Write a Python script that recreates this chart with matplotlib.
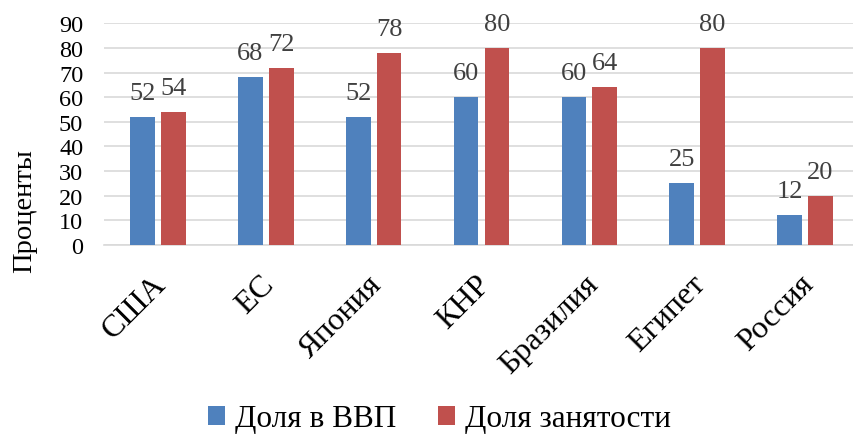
import matplotlib
matplotlib.use("Agg")
import matplotlib.pyplot as plt
from matplotlib.transforms import ScaledTranslation
import numpy as np

categories = ["США", "ЕС", "Япония", "КНР", "Бразилия", "Египет", "Россия"]
gdp_share = [52, 68, 52, 60, 60, 25, 12]
employment_share = [54, 72, 78, 80, 64, 80, 20]
series_names = ["Доля в ВВП", "Доля занятости"]
yticks = [0, 10, 20, 30, 40, 50, 60, 70, 80, 90]

plt.rcParams['font.family'] = ['Liberation Serif', 'DejaVu Serif']

fig = plt.figure(figsize=(8.54, 4.39), dpi=100)
ax = fig.add_axes([104/854, 1-246/439, 755/854, (246-24.3)/439])

x = np.arange(len(categories))
w = 0.23
off = 0.143
b1 = ax.bar(x - off, gdp_share, w, color='#4F81BD', label=series_names[0], zorder=3)
b2 = ax.bar(x + off, employment_share, w, color='#C0504D', label=series_names[1], zorder=3)

for bars in (b1, b2):
    for r in bars:
        h = r.get_height()
        ax.annotate(f"{int(h)}", (r.get_x() + r.get_width()/2, h),
                    xytext=(0, 17.3), textcoords='offset points', ha='center', va='center',
                    fontsize=19, color='#404040')

ax.set_xlim(-0.5, len(categories) - 0.5)
ax.set_ylim(0, 90)
ax.set_yticks(yticks)
ax.set_yticklabels([str(t) for t in yticks], fontsize=17.5)
ax.yaxis.grid(True, color='#D9D9D9', linewidth=1.2, zorder=0)
ax.set_axisbelow(True)
ax.set_xticks(x)
ax.set_xticklabels(categories, rotation=45, ha='right', rotation_mode='anchor', fontsize=23)
ax.tick_params(axis='both', length=0)
ax.tick_params(axis='y', pad=15)
ax.tick_params(axis='x', pad=6)
shift = ScaledTranslation(-6/100, -16/100, fig.dpi_scale_trans)
for lab in ax.get_xticklabels():
    lab.set_transform(lab.get_transform() + shift)
for s in ['top', 'right', 'left']:
    ax.spines[s].set_visible(False)
ax.spines['bottom'].set_color('#D9D9D9')
ax.spines['bottom'].set_linewidth(1.2)

fig.text(25/854, 1-211/439, "Проценты", rotation=90, ha='center', va='center', fontsize=20.5)

fig.legend(handles=[b1, b2], labels=series_names, loc='center', bbox_to_anchor=(439.5/854, 1-420/439),
           ncol=2, frameon=False, fontsize=22.5, handlelength=0.55, handleheight=0.55,
           handletextpad=0.3, columnspacing=1.35)

fig.savefig("out.png", dpi=100)
